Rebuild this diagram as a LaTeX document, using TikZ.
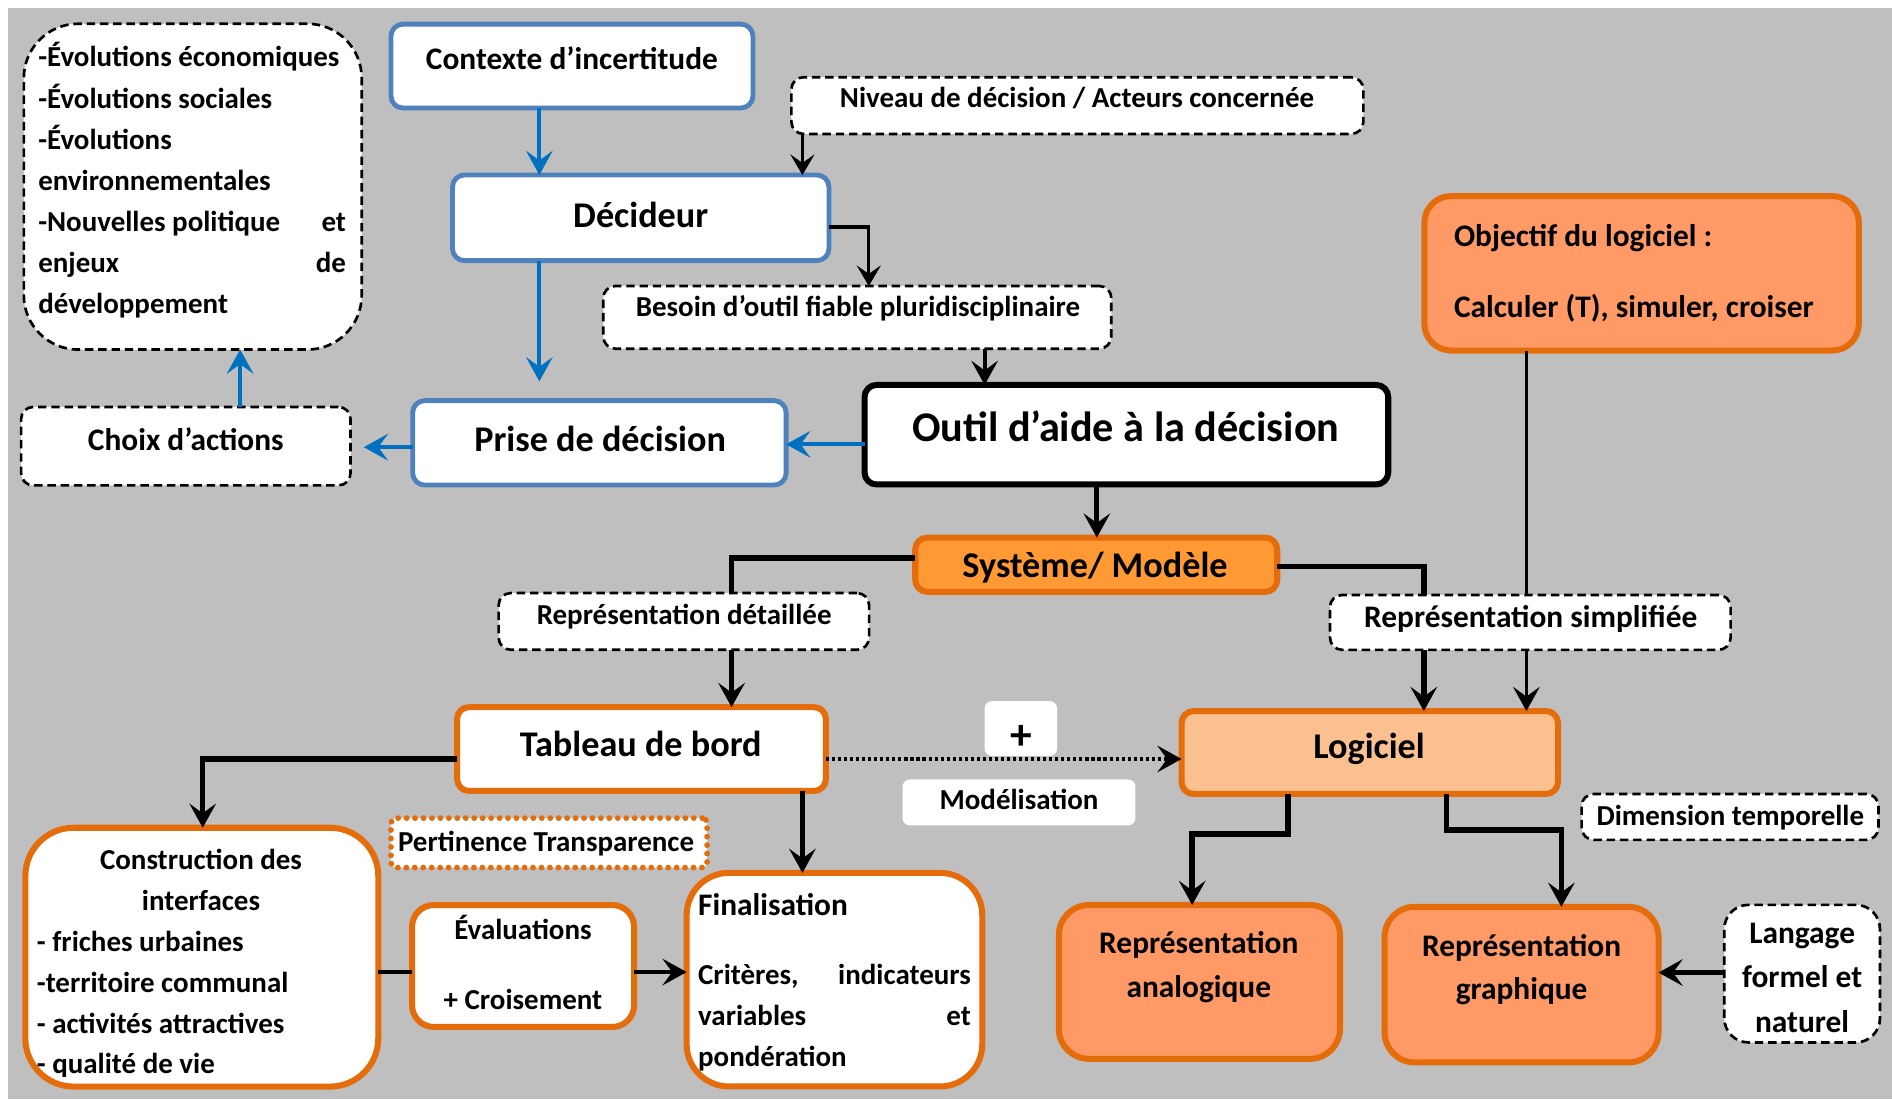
\documentclass[tikz,border=0pt]{standalone}
\usepackage{fontspec}
\setmainfont{Carlito}
\usetikzlibrary{arrows.meta,calc}
\definecolor{bgc}{HTML}{BFBFBF}
\definecolor{boxblue}{HTML}{4F81BD}
\definecolor{arrblue}{HTML}{0070C0}
\definecolor{orgline}{HTML}{E46C0A}
\definecolor{salmon}{HTML}{FF9966}
\definecolor{sysorange}{HTML}{FF9933}
\definecolor{logifill}{HTML}{FAC090}
\newcommand\fsz[1]{\fontsize{#1}{#1}\selectfont}
\newcommand\lnL[1]{\hbox to\linewidth{#1\hfill}}
\newcommand\lnC[1]{\hbox to\linewidth{\hfill#1\hfill}}
\newcommand\lnJ[2]{\hbox to\linewidth{#1\hfill#2}}
\tikzset{
  bx/.style={rectangle, rounded corners=10pt, inner sep=0pt, outer sep=0pt},
  bluebox/.style={bx, draw=boxblue, line width=4pt, fill=white},
  blackbox/.style={bx, draw=black, line width=5pt, fill=white},
  dashbox/.style={bx, draw=black, line width=2.2pt, dash pattern=on 7pt off 4pt, fill=white},
  dotbox/.style={bx, rounded corners=4pt, draw=orgline, line width=4.8pt, dash pattern=on 0pt off 7pt, line cap=round, fill=white},
  orgbox/.style={bx, draw=orgline, line width=5pt},
  plainbox/.style={bx, rounded corners=6pt, fill=white},
  txt/.style={inner sep=0pt, outer sep=0pt, font=\bfseries\fsz{24}, anchor=base},
  tipbig/.tip={Stealth[length=20pt,width=22pt,inset=8pt]},
  tipsmall/.tip={Stealth[length=17pt,width=20pt,inset=7pt]},
  barrow/.style={draw=arrblue, line width=3.3pt, -tipbig},
  karrow/.style={draw=black, line width=4.5pt, -tipbig},
  kline/.style={draw=black, line width=4.5pt},
  marrow/.style={draw=black, line width=3.3pt, -tipbig},
  tarrow/.style={draw=black, line width=2.2pt, -tipsmall},
  tline/.style={draw=black, line width=2.2pt},
  dotarrow/.style={draw=black, line width=3.2pt, dash pattern=on 2.6pt off 2.4pt, -tipbig},
}
\begin{document}
\begin{tikzpicture}[x=1pt,y=-1pt]
\useasboundingbox (0,0) rectangle (1568,911);
\fill[bgc] (7,7) rectangle (1568,911);

% ---------- boxes ----------
\node[dashbox, rounded corners=45pt, minimum width=280pt, minimum height=270pt] (evol) at (159.75,154.7) {};
\node[txt, anchor=base west] (evolt) at (31.7,55.5) {\begin{minipage}[t]{255pt}\fontsize{24}{34.1}\selectfont
\lnL{-Évolutions économiques}
\lnL{-Évolutions sociales}
\lnL{-Évolutions}
\lnL{environnementales}
\lnJ{-Nouvelles politique}{et}
\lnJ{enjeux}{de}
\lnL{développement}
\end{minipage}};

\node[bluebox, minimum width=300pt, minimum height=69.5pt] (ctx) at (474,54.75) {};
\node[txt, font=\bfseries\fsz{26}] (ctxt) at (474,57.6) {Contexte d’incertitude};

\node[bluebox, minimum width=312pt, minimum height=71pt] (dec) at (531,180.5) {};
\node[txt, font=\bfseries\fsz{30}] (dect) at (531,188.5) {Décideur};

\node[dashbox, minimum width=474pt, minimum height=47pt] (niv) at (892.85,87.5) {};
\node[txt] (nivt) at (892.6,89.4) {Niveau de décision / Acteurs concernée};

\node[dashbox, minimum width=421pt, minimum height=52pt] (bes) at (710.5,263) {};
\node[txt] (best) at (711,262.5) {Besoin d’outil fiable pluridisciplinaire};

\node[bluebox, minimum width=309.5pt, minimum height=70pt] (prise) at (496.75,367) {};
\node[txt, font=\bfseries\fsz{30}] (priset) at (497.4,374) {Prise de décision};

\node[dashbox, minimum width=273pt, minimum height=65pt] (choix) at (154,369.75) {};
\node[txt, font=\bfseries\fsz{26}] (choixt) at (154,373.5) {Choix d’actions};

\node[blackbox, minimum width=434pt, minimum height=82.5pt] (outil) at (933.5,360.25) {};
\node[txt, font=\bfseries\fsz{35}] (outilt) at (933,365.7) {Outil d’aide à la décision};

\node[orgbox, fill=salmon, rounded corners=22pt, minimum width=360pt, minimum height=128pt] (obj) at (1360.5,226.5) {};
\node[txt, anchor=base west, font=\bfseries\fsz{26}] (objt1) at (1205,204) {Objectif du logiciel :};
\node[txt, anchor=base west, font=\bfseries\fsz{26}] (objt2) at (1205,263.5) {Calculer (T), simuler, croiser};

\node[orgbox, fill=sysorange, minimum width=300pt, minimum height=45pt] (sys) at (908.5,468) {};
\node[txt, font=\bfseries\fsz{30}] (syst) at (907.5,479) {Système/ Modèle};

\node[dashbox, minimum width=307pt, minimum height=47pt] (rdet) at (566.75,515) {};
\node[txt] (rdett) at (567,517.3) {Représentation détaillée};

\node[dashbox, minimum width=332pt, minimum height=45.5pt] (rsimp) at (1268.25,515.8) {};
\node[txt, font=\bfseries\fsz{26}] (rsimpt) at (1268.6,520) {Représentation simplifiée};

\node[orgbox, fill=white, minimum width=305.7pt, minimum height=69.5pt] (tab) at (531.65,620.75) {};
\node[txt, font=\bfseries\fsz{30}] (tabt) at (531,626.8) {Tableau de bord};

\node[orgbox, fill=logifill, minimum width=312pt, minimum height=68.7pt] (logi) at (1135.2,623.65) {};
\node[txt, font=\bfseries\fsz{30}] (logit) at (1134.6,629) {Logiciel};

\node[plainbox, minimum width=60pt, minimum height=45.5pt] (plus) at (846,603.75) {};
\node[txt, font=\bfseries\fsz{36}] (plust) at (846,621.5) {+};

\node[plainbox, minimum width=193pt, minimum height=38pt] (model) at (844.5,665) {};
\node[txt] (modelt) at (844.5,670.8) {Modélisation};

\node[dashbox, minimum width=246pt, minimum height=38pt] (dim) at (1433.75,677) {};
\node[txt] (dimt) at (1434,684.5) {Dimension temporelle};

\node[orgbox, fill=white, rounded corners=40pt, minimum width=292.5pt, minimum height=214.5pt] (cons) at (167.25,793.25) {};
\begin{scope}
\clip (18,683) rectangle (316,892);
\node[txt, anchor=base west] (const) at (30.6,721) {\begin{minipage}[t]{272pt}\fontsize{24}{33.8}\selectfont
\lnC{Construction des}
\lnC{interfaces}
\lnL{- friches urbaines}
\lnL{-territoire communal}
\lnL{- activités attractives}
\lnL{- qualité de vie}
\end{minipage}};
\end{scope}

\node[dotbox, minimum width=262pt, minimum height=41pt] (pert) at (455,698.5) {};
\node[txt] (pertt) at (452.6,705.5) {Pertinence Transparence};

\node[orgbox, fill=white, rounded corners=18pt, minimum width=184pt, minimum height=101pt] (eval) at (433.5,800.55) {};
\node[txt] (evalt) at (433.4,779) {\begin{minipage}[t]{180pt}\fontsize{24}{34}\selectfont
\lnC{Évaluations}
\vskip 23.5pt
\lnC{+ Croisement}
\end{minipage}};

\node[orgbox, fill=white, rounded corners=35pt, minimum width=245pt, minimum height=177pt] (fin) at (691.55,811.9) {};
\node[txt, anchor=base west] (fint) at (578.6,758.8) {\begin{minipage}[t]{226pt}\fontsize{24}{34}\selectfont
\lnL{\fsz{26}Finalisation}
\vskip 23pt
\lnJ{Critères,}{indicateurs}
\lnJ{variables}{et}
\lnL{pondération}
\end{minipage}};

\node[orgbox, fill=salmon, rounded corners=25pt, minimum width=233pt, minimum height=127.5pt] (rana) at (994,813.75) {};
\node[txt] (ranat) at (993.5,790.5) {\begin{minipage}[t]{220pt}\fontsize{26}{36.5}\selectfont
\lnC{Représentation}
\lnC{analogique}
\end{minipage}};

\node[orgbox, fill=salmon, rounded corners=25pt, minimum width=227pt, minimum height=129pt] (rgra) at (1261,816) {};
\node[txt] (rgrat) at (1261,792.5) {\begin{minipage}[t]{215pt}\fontsize{26}{36}\selectfont
\lnC{Représentation}
\lnC{graphique}
\end{minipage}};

\node[dashbox, rounded corners=20pt, minimum width=129pt, minimum height=114pt] (lang) at (1493.5,806.9) {};
\node[txt] (langt) at (1493.5,781.8) {\begin{minipage}[t]{125pt}\fontsize{26}{36.8}\selectfont
\lnC{Langage}
\lnC{formel et}
\lnC{naturel}
\end{minipage}};

% ---------- connectors ----------
\draw[barrow] (447,0 |- ctx.south) -- (447,0 |- dec.north);
\draw[barrow, shorten >=16pt] (447,0 |- dec.south) -- (447,0 |- prise.north);
\draw[tarrow] (665,0 |- niv.south) -- (665,0 |- dec.north);
\draw[draw=black, line width=2.8pt, -tipsmall] (dec.east |- 0,188) -- (720,188) -- (720,0 |- bes.north);
\draw[marrow] (816,0 |- bes.south) -- (816,0 |- outil.north);
\draw[barrow] (outil.west |- 0,368.2) -- (prise.east |- 0,368.2);
\draw[barrow, shorten >=11pt] (prise.west |- 0,370.6) -- (choix.east |- 0,370.6);
\draw[barrow] (199,0 |- choix.north) -- (199,0 |- evol.south);
\draw[draw=black, line width=4pt, -tipbig] (909,0 |- outil.south) -- (909,0 |- sys.north);

\draw[kline] (sys.west |- 0,462.5) -- (606.3,462.5) -- (606.3,0 |- rdet.north);
\draw[karrow] (606.3,0 |- rdet.south) -- (606.3,0 |- tab.north);
\draw[kline] (sys.east |- 0,469.7) -- (1180,469.7) -- (1180,0 |- rsimp.north);
\draw[karrow] (1180,0 |- rsimp.south) -- (1180,0 |- logi.north);
\draw[tline] (1265,0 |- obj.south) -- (1265,0 |- rsimp.north);
\draw[draw=black, line width=2.8pt, -tipbig] (1265,0 |- rsimp.south) -- (1265,0 |- logi.north);

\draw[dotarrow] (tab.east |- 0,629) -- (logi.west |- 0,629);
\draw[karrow] (tab.west |- 0,629) -- (168,629) -- (168,0 |- cons.north);
\draw[karrow] (665,0 |- tab.south) -- (665,0 |- fin.north);
\draw[draw=black, line width=3.8pt] (cons.east |- 0,805.6) -- (eval.west |- 0,805.6);
\draw[draw=black, line width=3.8pt, -tipbig] (eval.east |- 0,805.6) -- (fin.west |- 0,805.6);

\draw[karrow] (1067.5,0 |- logi.south) -- (1067.5,691) -- (988,691) -- (988,0 |- rana.north);
\draw[karrow] (1199,0 |- logi.south) -- (1199,688) -- (1294,688) -- (1294,0 |- rgra.north);
\draw[draw=black, line width=3.6pt, -tipbig] (lang.west |- 0,806) -- (rgra.east |- 0,806);
\end{tikzpicture}
\end{document}
